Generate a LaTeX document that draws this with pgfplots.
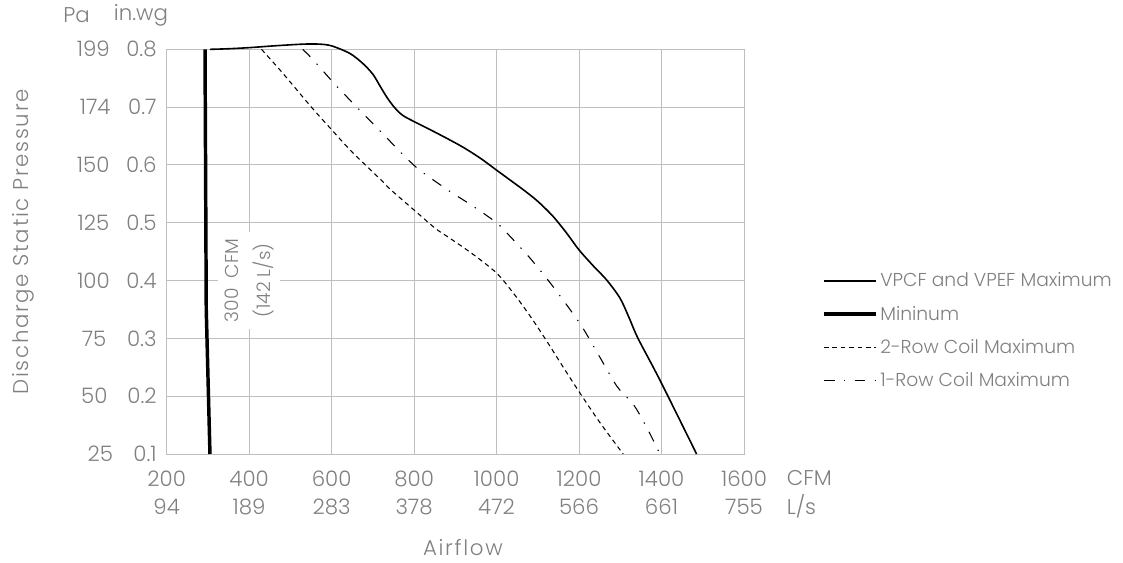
\documentclass[border=0pt]{standalone}
\usepackage{pgfplots}
\pgfplotsset{compat=1.18}
\usepackage{fontspec}
\setmainfont{Poppins}[UprightFont=* Light]
\newfontfamily\spaced{Poppins}[UprightFont=* Light, LetterSpace=8]
\definecolor{txt}{RGB}{128,128,128}
\definecolor{grd}{RGB}{191,191,191}
\newcommand{\fs}{\fontsize{14}{17}\selectfont}
\newcommand{\fb}{\fontsize{16}{19}\selectfont}
\begin{document}
\begin{tikzpicture}[x=1pt,y=1pt]
\path[use as bounding box] (-125,-81.75) rectangle (717.25,340.5);
\begin{axis}[
  at={(0,0)}, anchor=south west, scale only axis,
  width=433pt, height=303.5pt,
  xmin=200, xmax=1600, ymin=0.1, ymax=0.8,
  clip=false,
  xtick={200,400,600,800,1000,1200,1400,1600},
  ytick={0.1,0.2,0.3,0.4,0.5,0.6,0.7,0.8},
  xticklabels={{200\\94},{400\\189},{600\\283},{800\\378},{1000\\472},{1200\\566},{1400\\661},{1600\\755}},
  yticklabels={
    {\makebox[24pt]{25}\hspace{12.75pt}0.1},
    {\makebox[24pt]{50}\hspace{12.75pt}0.2},
    {\makebox[24pt]{75}\hspace{12.75pt}0.3},
    {\makebox[24pt]{100}\hspace{12.75pt}0.4},
    {\makebox[24pt]{125}\hspace{12.75pt}0.5},
    {\makebox[24pt]{150}\hspace{12.75pt}0.6},
    {\makebox[24pt]{174}\hspace{12.75pt}0.7},
    {\makebox[24pt]{199}\hspace{12.75pt}0.8}},
  xticklabel style={align=center, font=\fontsize{16}{21}\selectfont, text=txt, yshift=-9pt},
  yticklabel style={font=\fb, text=txt, xshift=-4pt},
  major tick length=0pt,
  grid=major,
  grid style={grd, line width=0.75pt},
  axis line style={grd, line width=0.75pt},
  legend style={at={(1.135,0.455)}, anchor=north west, draw=none, fill=none,
    font=\fs, text=txt, row sep=9pt, inner sep=0pt},
  legend cell align=left,
  legend image code/.code={\draw[#1] (0pt,0pt) -- (39pt,0pt);},
]
\addplot[black, line width=1.2pt, smooth, tension=0.5] coordinates {
(305,0.800) (350,0.801) (402,0.803) (460,0.806) (531,0.809) (570,0.809)
(600,0.806) (644,0.793) (675,0.776) (700,0.757) (717,0.737) (735,0.716)
(753,0.699) (772,0.686) (800,0.675)
(850,0.657) (913,0.633) (960,0.612) (1000,0.591) (1065,0.557) (1100,0.537)
(1137,0.511) (1170,0.482) (1200,0.453) (1235,0.425) (1267,0.401) (1299,0.370)
(1320,0.338) (1343,0.300) (1396,0.228) (1485,0.100)};
\addlegendentry{VPCF and VPEF Maximum}
\addplot[black, line width=2.6pt] coordinates {
(293,0.8) (296,0.35) (305,0.1)};
\addlegendentry{Mininum}
\addplot[black, line width=0.8pt, dash pattern=on 3.5pt off 2.8pt, smooth, tension=0.5] coordinates {
(430,0.800) (480,0.760) (551,0.700) (600,0.661) (650,0.622) (717,0.576)
(742,0.558) (800,0.522) (852,0.490) (881,0.476) (940,0.447) (1000,0.413)
(1041,0.378) (1081,0.339) (1121,0.296) (1160,0.252) (1198,0.210) (1250,0.155)
(1307,0.100)};
\addlegendentry{2-Row Coil Maximum}
\addplot[black, line width=0.8pt, dash pattern=on 8pt off 7pt on 1pt off 7pt, smooth, tension=0.5] coordinates {
(530,0.800) (555,0.782) (610,0.738) (668,0.695) (720,0.657) (773,0.618)
(812,0.592) (881,0.557) (940,0.530) (1000,0.500) (1032,0.477) (1081,0.439)
(1130,0.396) (1174,0.354) (1210,0.317) (1250,0.268) (1291,0.218) (1320,0.195)
(1339,0.178) (1372,0.135) (1396,0.100)};
\addlegendentry{1-Row Coil Maximum}
\node[rotate=90, fill=white, align=center, text=txt, font=\fontsize{14}{24}\selectfont, inner sep=5pt]
  at (axis cs:400,0.4) {300\ \ CFM\\(142 L/s)};
\node[font=\fb, text=txt] at (rel axis cs:-0.156,1.084) {Pa};
\node[font=\fb, text=txt] at (rel axis cs:-0.0445,1.084) {in.wg};
\node[rotate=90, font=\fb\spaced, text=txt, inner sep=0pt] at (rel axis cs:-0.249,0.524) {Discharge Static Pressure};
\node[font=\fb\spaced, text=txt, inner sep=0pt] at (rel axis cs:0.513,-0.232) {Airflow};
\node[font=\fb, text=txt, anchor=west] at (rel axis cs:1.066,-0.059) {CFM};
\node[font=\fb, text=txt, anchor=west] at (rel axis cs:1.066,-0.1285) {L/s};
\end{axis}
\end{tikzpicture}
\end{document}
